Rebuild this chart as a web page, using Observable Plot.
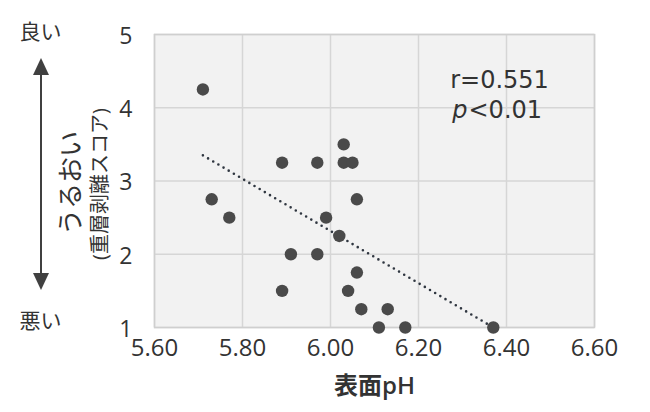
<!DOCTYPE html>
<html>
<head>
<meta charset="utf-8">
<script src="https://cdn.jsdelivr.net/npm/d3@7"></script>
<script src="https://cdn.jsdelivr.net/npm/@observablehq/plot@0.6"></script>
<style>
  html, body { margin: 0; padding: 0; background: #fff; }
  #chart { width: 650px; height: 412px; }
</style>
</head>
<body>
<div id="chart"></div>
<script>
// Data
const phValues    = [5.71, 5.73, 5.77, 5.89, 5.97, 6.03, 6.03, 6.05, 6.06, 5.99, 6.02, 5.91, 5.97, 6.06, 5.89, 6.04, 6.07, 6.13, 6.11, 6.17, 6.37];
const scoreValues = [4.25, 2.75, 2.5, 3.25, 3.25, 3.5, 3.25, 3.25, 2.75, 2.5, 2.25, 2.0, 2.0, 1.75, 1.5, 1.5, 1.25, 1.25, 1.0, 1.0, 1.0];
const trendX = [5.71, 6.37];
const trendY = [3.35, 1.0];
const xTicks = [5.6, 5.8, 6.0, 6.2, 6.4, 6.6];
const yTicks = [1, 2, 3, 4, 5];
const xTitle = "表面pH";
const yTitle1 = "うるおい";
const yTitle2 = "(重層剥離スコア)";
const goodLabel = "良い";
const badLabel = "悪い";
const statR = "r=0.551";
const statP = "p";
const statPRest = "<0.01";

const points = phValues.map((x, i) => ({x, y: scoreValues[i]}));
const trend = trendX.map((x, i) => ({x, y: trendY[i]}));

const font = "'Open Sans', 'Noto Sans CJK JP', sans-serif";
const statFont = "'DejaVu Sans', sans-serif";

function sideArrow(index, scales, values, dims) {
  const g = d3.create("svg:g").attr("fill", "#404040").attr("stroke", "none");
  const cx = dims.marginLeft - 113;
  const top = dims.marginTop + 24;
  const bottom = dims.height - dims.marginBottom - 37;
  g.append("line")
    .attr("x1", cx).attr("x2", cx)
    .attr("y1", top + 10).attr("y2", bottom - 10)
    .attr("stroke", "#404040").attr("stroke-width", 2);
  g.append("path").attr("d", `M${cx},${top}L${cx - 8},${top + 17}L${cx + 8},${top + 17}Z`);
  g.append("path").attr("d", `M${cx},${bottom}L${cx - 8},${bottom - 17}L${cx + 8},${bottom - 17}Z`);
  return g.node();
}

const chart = Plot.plot({
  width: 650,
  height: 412,
  marginLeft: 154,
  marginRight: 56,
  marginTop: 34,
  marginBottom: 85,
  style: {fontFamily: font, fontSize: "23px", color: "#333", background: "#fff"},
  x: {domain: [5.6, 6.6], ticks: xTicks, tickFormat: d3.format(".2f")},
  y: {domain: [1, 5], ticks: yTicks, tickFormat: d3.format("d")},
  marks: [
    Plot.frame({fill: "#f2f2f2", stroke: null}),
    Plot.gridX(xTicks, {stroke: "#d6d6d6", strokeOpacity: 1, strokeWidth: 1.5}),
    Plot.gridY(yTicks, {stroke: "#d6d6d6", strokeOpacity: 1, strokeWidth: 1.5}),
    Plot.frame({stroke: "#cfcfcf", strokeWidth: 1.5}),
    Plot.axisX(xTicks, {tickSize: 0, tickPadding: 11, tickFormat: d3.format(".2f"), fontSize: 24, fill: "#333", label: null}),
    Plot.axisY(yTicks, {tickSize: 0, tickPadding: 22, tickFormat: d3.format("d"), fontSize: 23, fill: "#333", dy: 2, label: null}),
    Plot.line(trend, {x: "x", y: "y", stroke: "#2f3640", strokeWidth: 2.6, strokeDasharray: "0,6", strokeLinecap: "round"}),
    Plot.dot(points, {x: "x", y: "y", r: 6.2, fill: "#4a4a4a", stroke: "none"}),
    Plot.text([statR], {frameAnchor: "top-right", dx: -95, dy: 36, textAnchor: "middle", fontSize: 24, fontFamily: statFont, fill: "#333"}),
    Plot.text([statP], {frameAnchor: "top-right", dx: -127, dy: 66, textAnchor: "end", fontSize: 24, fontFamily: statFont, fontStyle: "italic", fill: "#333"}),
    Plot.text([statPRest], {frameAnchor: "top-right", dx: -126, dy: 66, textAnchor: "start", fontSize: 24, fontFamily: statFont, fill: "#333"}),
    Plot.text([xTitle], {frameAnchor: "bottom", dy: 66, fontSize: 24, fontWeight: 600, fill: "#333"}),
    Plot.text([yTitle1], {frameAnchor: "left", textAnchor: "middle", dx: -83, dy: 2, rotate: -90, fontSize: 26, fill: "#333"}),
    Plot.text([yTitle2], {frameAnchor: "left", textAnchor: "middle", dx: -54, dy: 3, rotate: -90, fontSize: 20, fill: "#333"}),
    Plot.text([goodLabel], {frameAnchor: "top-left", dx: -114, dy: -10, textAnchor: "middle", fontSize: 21, fill: "#333"}),
    Plot.text([badLabel], {frameAnchor: "bottom-left", dx: -114, dy: 0, textAnchor: "middle", fontSize: 21, fill: "#333"}),
    sideArrow
  ]
});

document.getElementById("chart").appendChild(chart);
</script>
</body>
</html>
